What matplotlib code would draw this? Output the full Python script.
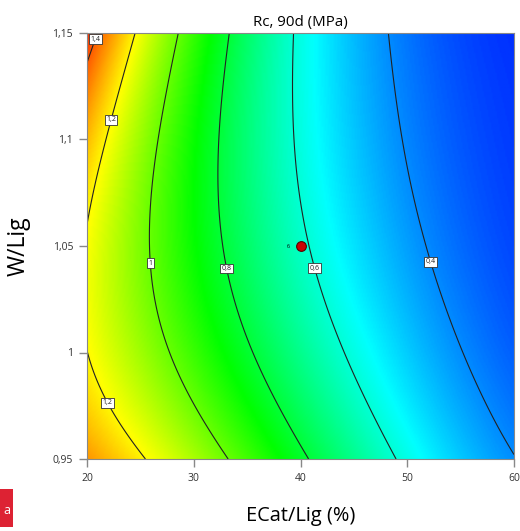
import numpy as np
import matplotlib
matplotlib.use('Agg')
import matplotlib.pyplot as plt
from matplotlib.colors import LinearSegmentedColormap
from matplotlib.patches import Rectangle

plt.rcParams['font.family'] = ['Open Sans', 'DejaVu Sans']

# response surface for Rc 90d, coded factors A = (ECat/Lig-40)/20, B = (W/Lig-1.05)/0.1
# coefficients estimated from the contour positions in the picture
coef_terms = ['1', 'A', 'B', 'A2', 'AB', 'B2', 'A3', 'A2B', 'AB2', 'B3', 'A3B', 'A2B2']
coef_vals = [0.6179, -0.4537, -0.1030, 0.1327, -0.0155, 0.0828,
             0.0146, 0.1221, -0.0854, -0.0161, -0.0475, 0.0343]

x_range = [20, 60]
y_range = [0.95, 1.15]
levels = [0.4, 0.6, 0.8, 1.0, 1.2, 1.4]
label_pos = [(20.75, 1.1472), (22.06, 1.1096), (22.06, 0.9768),
             (26.09, 1.042), (33.3, 1.0397), (41.45, 1.0397), (52.1, 1.0425)]
x_ticks = [20, 30, 40, 50, 60]
y_ticks = [0.95, 1.0, 1.05, 1.1, 1.15]
y_ticklabels = ['0,95', '1', '1,05', '1,1', '1,15']
point_x, point_y, point_lbl = [40], [1.05], ['6']


def terms(A, B):
    return [np.ones_like(A), A, B, A**2, A*B, B**2,
            A**3, A**2*B, A*B**2, B**3, A**3*B, A**2*B**2]


xg = np.linspace(x_range[0], x_range[1], 300)
yg = np.linspace(y_range[0], y_range[1], 300)
XX, YY = np.meshgrid(xg, yg)
Z = sum(c * t for c, t in zip(coef_vals, terms((XX - 40) / 20, (YY - 1.05) / 0.1)))

cmap = LinearSegmentedColormap.from_list(
    'de', ['#0000ff', '#00ffff', '#00ff00', '#ffff00', '#ff0000'])

fig = plt.figure(figsize=(5.2, 5.31), dpi=100)
ax = fig.add_axes([87/520, 1-459/531, 427/520, 426/531])
ax.imshow(Z, extent=x_range + y_range, origin='lower', aspect='auto',
          cmap=cmap, vmin=0.22, vmax=1.52, interpolation='bilinear')
cs = ax.contour(XX, YY, Z, levels=levels, colors='#222222', linewidths=0.8)
fmt = lambda v: ('%g' % round(v, 2)).replace('.', ',')
lbls = ax.clabel(cs, manual=label_pos, fmt=fmt, fontsize=5, inline=False)
for t in lbls:
    t.set_rotation(0)
    t.set_bbox(dict(facecolor='white', edgecolor='#333333', linewidth=0.6, pad=1.0))

ax.plot(point_x, point_y, 'o', color='#cc0000', mec='#550000', mew=0.8, ms=7)
for px, py, s in zip(point_x, point_y, point_lbl):
    ax.text(px - 1.1, py, s, fontsize=4, ha='center', va='center')

ax.set_xlim(x_range)
ax.set_ylim(y_range)
ax.set_xticks(x_ticks)
ax.set_xticklabels([str(v) for v in x_ticks])
ax.set_yticks(y_ticks)
ax.set_yticklabels(y_ticklabels)
ax.tick_params(direction='out', length=6, width=1, color='#888888',
               labelsize=7.5, labelcolor='#333333', pad=4)
for sp in ax.spines.values():
    sp.set_color('#888888')
ax.set_title('Rc, 90d (MPa)', fontsize=10.8, pad=5)
ax.set_xlabel('ECat/Lig (%)', fontsize=14.4)
ax.set_ylabel('W/Lig', fontsize=16.5)
ax.xaxis.set_label_coords(0.5, (459 - 506) / 426)
ax.yaxis.set_label_coords((31 - 87) / 427, 0.5)

fig.patches.append(Rectangle((0, 4/531), 13/520, 38/531, transform=fig.transFigure,
                             facecolor='#dd2233', edgecolor='none'))
fig.text(6.5/520, 21/531, 'a', color='white', fontsize=9, ha='center', va='center')

fig.savefig('out.png', dpi=100)
